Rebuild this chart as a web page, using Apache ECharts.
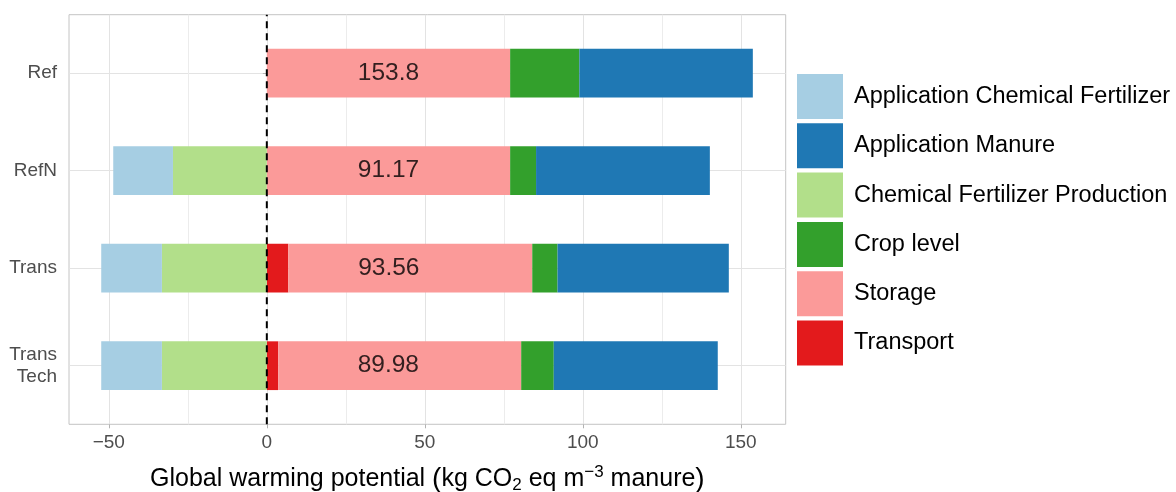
<!DOCTYPE html>
<html>
<head>
<meta charset="utf-8">
<script src="https://cdn.jsdelivr.net/npm/echarts@6/dist/echarts.min.js"></script>
<style>
html,body{margin:0;padding:0;background:#fff;}
#chart{width:1176px;height:492px;}
</style>
</head>
<body>
<div id="chart"></div>
<script>
// ---- data ----
const categories = ['Ref', 'RefN', 'Trans', 'Trans\nTech'];
const appChemFert   = [0, -18.9, -19.2, -19.2];
const appManure     = [54.9, 55.0, 54.2, 51.9];
const chemFertProd  = [0, -29.7, -33.2, -33.2];
const cropLevel     = [21.9, 8.2, 8.0, 10.3];
const storage       = [77.0, 77.0, 77.2, 76.9];
const transport     = [0, 0, 6.8, 3.6];
const totals        = ['153.8', '91.17', '93.56', '89.98'];
const xMajorTicks   = [-50, 0, 50, 100, 150];
const xMinorTicks   = [-25, 25, 75, 125];
const zeroLine      = [0];

const xMin = -62.6, xMax = 164.2;
const FONT = '"Liberation Sans", Arial, Helvetica, sans-serif';

const colors = {
  'Application Chemical Fertilizer': '#A6CEE3',
  'Application Manure': '#1F78B4',
  'Chemical Fertilizer Production': '#B2DF8A',
  'Crop level': '#33A02C',
  'Storage': '#FB9A99',
  'Transport': '#E31A1C'
};
const legendOrder = ['Application Chemical Fertilizer','Application Manure','Chemical Fertilizer Production','Crop level','Storage','Transport'];

function barSeries(name, data, stack) {
  return {
    type: 'bar', name: name, stack: stack, xAxisIndex: 2, yAxisIndex: 1,
    data: data, barWidth: '50%', clip: false,
    itemStyle: { color: colors[name] },
    emphasis: { disabled: true }, animation: false
  };
}

const chart = echarts.init(document.getElementById('chart'), null, { renderer: 'canvas' });
const option = {
  animation: false,
  backgroundColor: '#ffffff',
  textStyle: { fontFamily: FONT },
  grid: [
    { left: 69, right: 390.3, top: 14.7, bottom: 67.7, show: true, borderColor: '#c4c4c4', borderWidth: 1, backgroundColor: 'transparent', containLabel: false, outerBoundsMode: 'none' },
    { left: 69, right: 390.3, top: 73.2, bottom: 126.3, containLabel: false, outerBoundsMode: 'none' }
  ],
  xAxis: [
    {
      type: 'value', gridIndex: 0, min: xMin, max: xMax, position: 'bottom',
      axisLine: { show: false },
      axisTick: { show: true, length: 4, customValues: xMajorTicks, lineStyle: { color: '#b3b3b3' } },
      axisLabel: { customValues: xMajorTicks, margin: 9, fontSize: 19, color: '#4d4d4d', fontFamily: FONT,
        formatter: v => (v < 0 ? '\u2212' + Math.abs(v) : String(v)) },
      splitLine: { show: true, lineStyle: { color: '#e3e3e3', width: 1 } },
      name: 'Global warming potential {par|(}kg CO{sub|2} eq m{sup|\u22123} manure{par|)}',
      nameLocation: 'middle', nameGap: 40,
      nameTextStyle: {
        fontSize: 25, color: '#000', fontFamily: FONT, lineHeight: 30,
        rich: {
          par: { fontSize: 28, lineHeight: 30, fontFamily: FONT, color: '#000' },
          sub: { fontSize: 17, lineHeight: 16, verticalAlign: 'bottom', fontFamily: FONT, color: '#000' },
          sup: { fontSize: 17, lineHeight: 16, verticalAlign: 'top', fontFamily: FONT, color: '#000' }
        }
      }
    },
    {
      type: 'value', gridIndex: 0, min: xMin, max: xMax, position: 'top',
      axisLine: { show: false },
      axisTick: { show: false, customValues: xMinorTicks },
      axisLabel: { show: false, customValues: xMinorTicks },
      splitLine: { show: true, lineStyle: { color: '#ececec', width: 1 } }
    },
    {
      type: 'value', gridIndex: 1, min: xMin, max: xMax, show: false,
      splitLine: { show: false }
    }
  ],
  yAxis: [
    { type: 'value', gridIndex: 0, min: 0, max: 1, show: false, splitLine: { show: false } },
    {
      type: 'category', gridIndex: 1, data: categories, inverse: true, boundaryGap: false,
      axisLine: { show: false },
      axisTick: { show: true, length: 4, lineStyle: { color: '#b3b3b3' } },
      axisLabel: { interval: 0, margin: 12, fontSize: 19, color: '#4d4d4d', lineHeight: 22, align: 'right', fontFamily: FONT },
      splitLine: { show: true, lineStyle: { color: '#e3e3e3', width: 1 } }
    }
  ],
  legend: {
    orient: 'vertical', left: 797, top: 74, padding: 0,
    data: legendOrder, icon: 'rect', itemWidth: 46, itemHeight: 45, itemGap: 4.3,
    selectedMode: false,
    textStyle: { fontSize: 23.5, color: '#000', fontFamily: FONT, padding: [0, 0, 0, 6] }
  },
  series: [
    barSeries('Transport', transport, 'tot'),
    barSeries('Storage', storage, 'tot'),
    barSeries('Crop level', cropLevel, 'tot'),
    barSeries('Application Manure', appManure, 'tot'),
    barSeries('Chemical Fertilizer Production', chemFertProd, 'tot'),
    barSeries('Application Chemical Fertilizer', appChemFert, 'tot'),
    {
      type: 'scatter', xAxisIndex: 2, yAxisIndex: 1, symbolSize: 0, silent: true, z: 5,
      data: categories.map((c, i) => [storage[i] / 2, c]),
      label: { show: true, position: 'inside', fontSize: 24.5, color: '#000', fontFamily: FONT,
        formatter: p => totals[p.dataIndex] }
    },
    {
      type: 'line', xAxisIndex: 0, yAxisIndex: 0, z: 10, silent: true, symbol: 'none',
      data: [[zeroLine[0], 0], [zeroLine[0], 1]],
      lineStyle: { color: '#000', width: 2, type: [7, 5] }
    }
  ]
};
chart.setOption(option);
</script>
</body>
</html>
